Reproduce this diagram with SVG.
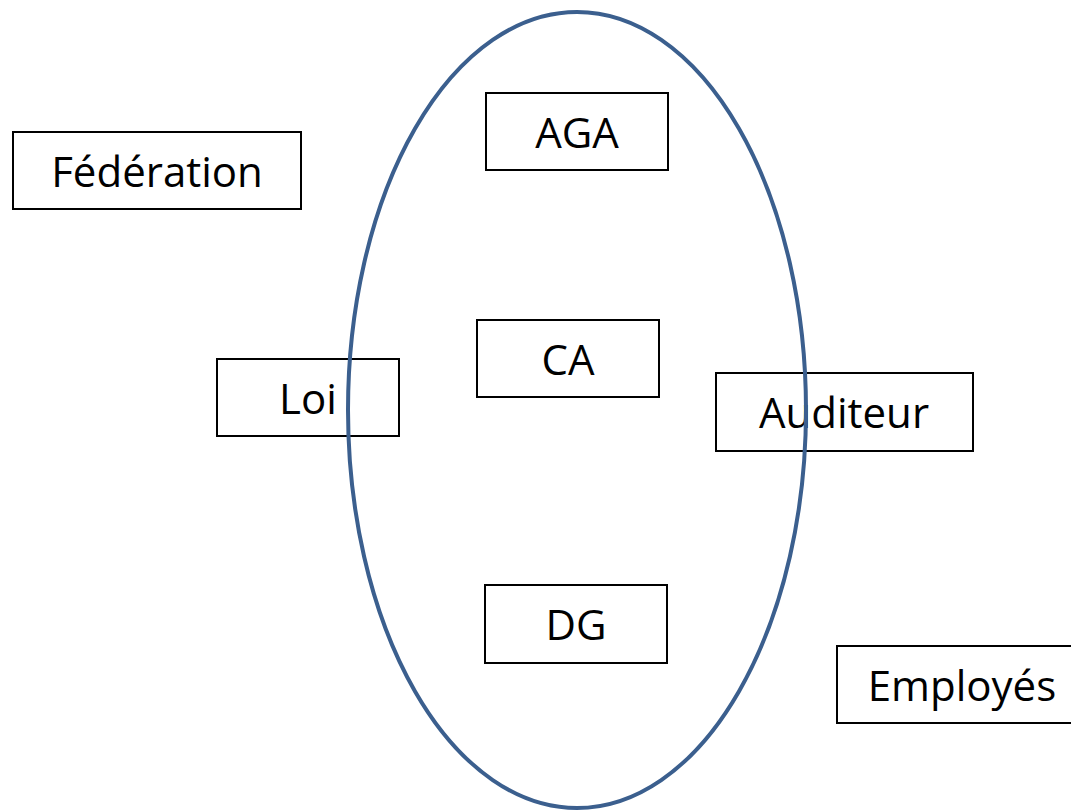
<svg xmlns="http://www.w3.org/2000/svg" width="1071" height="812" viewBox="0 0 1071 812">
<style>
.box{fill:#ffffff;stroke:#000000;stroke-width:2}
.lbl{font-family:"Open Sans","Liberation Sans",sans-serif;font-size:42px;fill:#000000;text-anchor:middle}
.oval{fill:none;stroke:#3B5F8E;stroke-width:4}
</style>
<rect width="1071" height="812" fill="#ffffff"/>
<g id="node-federation"><rect class="box" x="13" y="132" width="288" height="77"/><text class="lbl" x="157" y="187">Fédération</text></g>
<g id="node-aga"><rect class="box" x="486" y="93" width="182" height="77"/><text class="lbl" x="577" y="148">AGA</text></g>
<g id="node-ca"><rect class="box" x="477" y="320" width="182" height="77"/><text class="lbl" x="568" y="375">CA</text></g>
<g id="node-loi"><rect class="box" x="217" y="359" width="182" height="77"/><text class="lbl" x="308" y="414">Loi</text></g>
<g id="node-auditeur"><rect class="box" x="716" y="373" width="257" height="78"/><text class="lbl" x="844" y="428">Auditeur</text></g>
<g id="node-dg"><rect class="box" x="485" y="585" width="182" height="78"/><text class="lbl" x="576" y="640">DG</text></g>
<g id="node-employes"><rect class="box" x="837" y="646" width="250" height="77"/><text class="lbl" x="962" y="701">Employés</text></g>
<g id="connectors"></g>
<g id="node-ellipse"><ellipse class="oval" cx="577" cy="410" rx="229" ry="398"/></g>
</svg>
